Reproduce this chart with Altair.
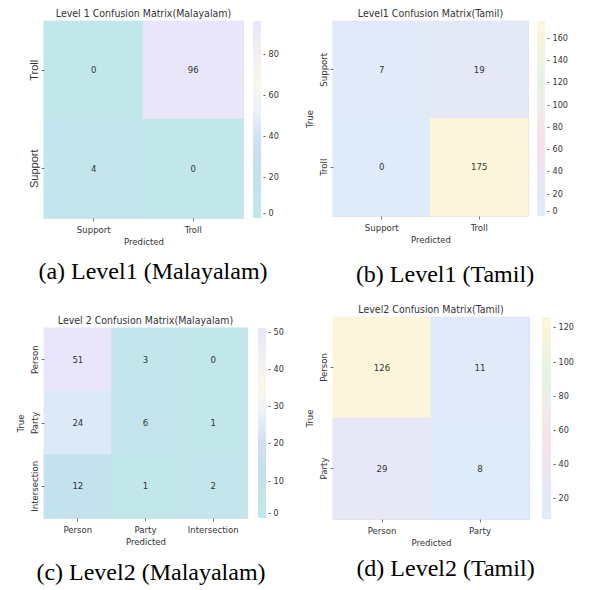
import altair as alt
import pandas as pd

SANS = "Liberation Sans Narrow, DejaVu Sans Condensed, Liberation Sans, sans-serif"
SANS_WIDE = "Liberation Sans, DejaVu Sans, sans-serif"
SERIF = "Liberation Serif, Times New Roman, serif"
INK = "#333333"

# (a) Level 1 - Malayalam
a_rows = ["Troll", "Support"]
a_cols = ["Support", "Troll"]
a_values = [[0, 96], [4, 0]]
a_ticks = [0, 20, 40, 60, 80]

# (b) Level 1 - Tamil
b_rows = ["Support", "Troll"]
b_cols = ["Support", "Troll"]
b_values = [[7, 19], [0, 175]]
b_ticks = [0, 20, 40, 60, 80, 100, 120, 140, 160]

# (c) Level 2 - Malayalam
c_rows = ["Person", "Party", "Intersection"]
c_cols = ["Person", "Party", "Intersection"]
c_values = [[51, 3, 0], [24, 6, 1], [12, 1, 2]]
c_ticks = [0, 10, 20, 30, 40, 50]

# (d) Level 2 - Tamil
d_rows = ["Person", "Party"]
d_cols = ["Person", "Party"]
d_values = [[126, 11], [29, 8]]
d_ticks = [20, 40, 60, 80, 100, 120]

# colour maps (stop fractions + colours)
mal_stops = [0, 0.2, 0.38, 0.56, 0.7, 1.0]
mal_colors = ["#c2e7ea", "#c3e2ed", "#cadff4", "#eef3f8", "#fcf7ea", "#e8e6f8"]
tam_stops = [0, 0.2, 0.38, 0.55, 0.72, 0.88, 1.0]
tam_colors = ["#dfebfa", "#e9e6f5", "#f9e1e9", "#efecea", "#e3f2e3", "#f6f5dc", "#fdf5db"]


def panel(rows, cols, values, ticks, stops, colors, title, caption, w, h,
          cap_offset, cap_shift, leg_offset=11, thick=8, show_true=True,
          ylab_font=SANS, ylab_size=9.5):
    recs = [{"True": r, "Predicted": c, "Count": values[i][j]}
            for i, r in enumerate(rows) for j, c in enumerate(cols)]
    df = pd.DataFrame(recs)
    lo, hi = df["Count"].min(), df["Count"].max()
    dom = [lo + s * (hi - lo) for s in stops]

    xaxis = alt.Axis(title="Predicted", orient="bottom", labelAngle=0, labelFont=SANS,
                     labelFontSize=9.5, labelColor=INK, titleFont=SANS, titleFontSize=9.5,
                     titleFontWeight="normal", titleColor=INK, tickSize=3,
                     tickColor="#777", domain=False, labelPadding=3, titlePadding=3)
    yaxis = alt.Axis(title="True", titleOpacity=1 if show_true else 0, labelAngle=-90,
                     labelFont=ylab_font, labelFontSize=ylab_size, labelColor=INK,
                     titleFont=SANS, titleFontSize=9.5, titleFontWeight="normal",
                     titleColor=INK, tickSize=3, tickColor="#777", domain=False,
                     labelPadding=2, titlePadding=4)
    capaxis = alt.Axis(orient="bottom", title=caption, labels=False, ticks=False,
                       domain=False, grid=False, offset=cap_offset, minExtent=0,
                       maxExtent=0, titlePadding=0, titleFont=SERIF, titleFontSize=24,
                       titleFontWeight="normal", titleColor="#000000",
                       titleX=w / 2 + cap_shift, titleAlign="center",
                       titleBaseline="top")
    band = alt.Scale(paddingInner=0, paddingOuter=0)
    leg = alt.Legend(type="gradient", direction="vertical", orient="right", title=None,
                     gradientLength=h, gradientThickness=thick, gradientStrokeWidth=0,
                     offset=leg_offset, padding=0, values=ticks, labelFont=SANS,
                     labelFontSize=9, labelColor=INK, labelOffset=2,
                     labelExpr="'- ' + datum.label")
    rect = alt.Chart(df).mark_rect(
        width=alt.RelativeBandSize(1.012), height=alt.RelativeBandSize(1.012)
    ).encode(
        x=alt.X("Predicted:N", sort=cols, axis=xaxis, scale=band),
        y=alt.Y("True:N", sort=rows, axis=yaxis, scale=band),
        color=alt.Color("Count:Q", legend=leg,
                        scale=alt.Scale(domain=dom, range=colors, interpolate="rgb")),
    )
    text = alt.Chart(df).mark_text(font=SANS, fontSize=9.5, color=INK).encode(
        x=alt.X("Predicted:N", sort=cols, axis=capaxis),
        y=alt.Y("True:N", sort=rows),
        text="Count:Q",
    )
    return alt.layer(rect, text).resolve_axis(x="independent").properties(
        width=w, height=h,
        title=alt.TitleParams(title, font=SANS, fontSize=10.5, fontWeight="normal",
                              color=INK, offset=1, anchor="middle", frame="group"),
    )


pa = panel(a_rows, a_cols, a_values, a_ticks, mal_stops, mal_colors,
           "Level 1 Confusion Matrix(Malayalam)", "(a) Level1 (Malayalam)", 199, 197,
           cap_offset=41, cap_shift=9, leg_offset=10, show_true=False,
           ylab_font=SANS_WIDE, ylab_size=11)
pb = panel(b_rows, b_cols, b_values, b_ticks, tam_stops, tam_colors,
           "Level1 Confusion Matrix(Tamil)", "(b) Level1 (Tamil)", 195, 195,
           cap_offset=46, cap_shift=14, leg_offset=9)
pc = panel(c_rows, c_cols, c_values, c_ticks, mal_stops, mal_colors,
           "Level 2 Confusion Matrix(Malayalam)", "(c) Level2 (Malayalam)", 203, 190,
           cap_offset=42, cap_shift=5, leg_offset=11)
pd_ = panel(d_rows, d_cols, d_values, d_ticks, tam_stops, tam_colors,
            "Level2 Confusion Matrix(Tamil)", "(d) Level2 (Tamil)", 196, 202,
            cap_offset=37, cap_shift=14, leg_offset=13, thick=9)

RES = dict(color="independent")
left = alt.vconcat(pa, pc, spacing=31).resolve_scale(**RES)
right = alt.vconcat(pb, pd_, spacing=17).resolve_scale(**RES)

chart = alt.hconcat(left, right, spacing=18).resolve_scale(**RES).properties(
    padding={"left": 5, "top": 0, "right": 0, "bottom": 0}
).configure_view(stroke=None).configure(background="white")

chart.save("out.html", embed_options={"renderer": "svg", "actions": False})
